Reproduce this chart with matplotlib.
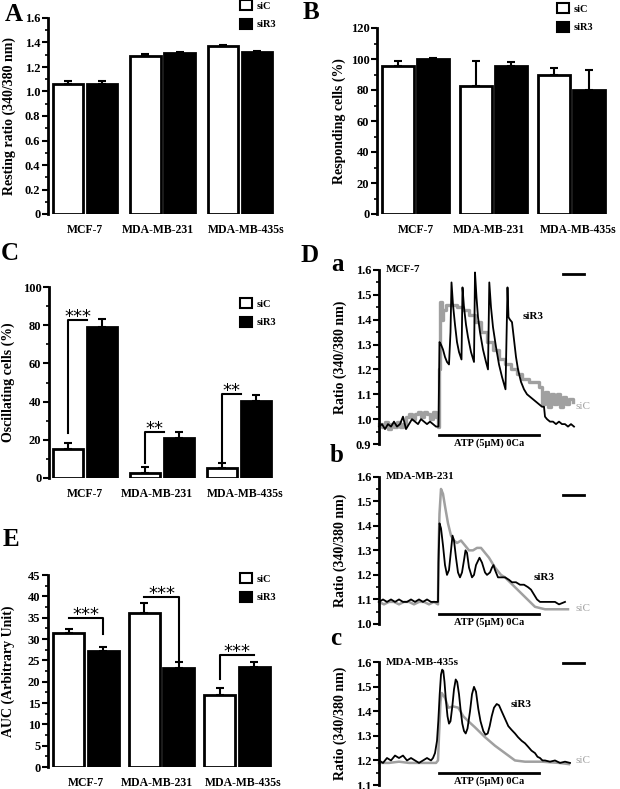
import numpy as np
import matplotlib
matplotlib.use("Agg")
import matplotlib.pyplot as plt
from matplotlib.patches import Patch
from matplotlib.ticker import MultipleLocator, FuncFormatter

plt.rcParams['font.family'] = ['Liberation Serif', 'DejaVu Serif']
plt.rcParams['font.weight'] = 'bold'
plt.rcParams['axes.labelweight'] = 'bold'

cells = ['MCF-7', 'MDA-MB-231', 'MDA-MB-435s']

# A - resting ratio
a_sic = [1.064, 1.292, 1.374]
a_sic_err = [0.025, 0.014, 0.008]
a_sir = [1.064, 1.314, 1.319]
a_sir_err = [0.018, 0.008, 0.009]

# B - responding cells (%)
b_sic = [95.7, 82.8, 89.4]
b_sic_err = [2.8, 16.1, 4.8]
b_sir = [100.2, 95.2, 79.8]
b_sir_err = [0.4, 2.8, 12.9]

# C - oscillating cells (%)
c_sic = [15.3, 2.6, 5.2]
c_sic_err = [3.0, 3.2, 2.7]
c_sir = [79.0, 20.7, 40.5]
c_sir_err = [4.4, 3.4, 3.1]
c_stars = ['***', '**', '**']
c_brk_top = [82.9, 24.1, 44.0]
c_brk_bot = [23.5, 7.9, 7.9]

# E - AUC
e_sic = [31.3, 36.0, 16.9]
e_sic_err = [1.0, 2.5, 1.7]
e_sir = [27.3, 23.1, 23.5]
e_sir_err = [0.8, 1.4, 1.1]
e_stars = ['***', '***', '***']
e_brk_top = [35.0, 39.9, 26.3]
e_brk_bot = [31.2, 25.1, 20.6]

# D - traces (time, ratio)
da_sic = [(0, 0.98), (3, 0.97), (6, 0.99), (9, 0.96), (12, 0.98), (15, 0.97), (18, 0.99),
          (21, 0.97), (24, 0.98), (27, 1.01), (30, 1.02), (33, 1.00), (36, 1.02), (39, 1.03),
          (42, 1.01), (45, 1.03), (48, 1.02), (51, 1.00), (54, 1.03), (57, 1.01), (59, 0.97),
          (60, 1.20), (61, 1.47), (62.5, 1.40), (64, 1.44), (67, 1.46), (72, 1.46), (78, 1.45),
          (84, 1.44), (90, 1.42), (96, 1.39), (102, 1.35), (108, 1.31), (114, 1.28), (120, 1.24),
          (126, 1.22), (132, 1.20), (138, 1.18), (143, 1.16), (150, 1.15), (158, 1.15),
          (160, 1.13), (163, 1.06), (166, 1.11), (169, 1.05), (172, 1.10), (175, 1.06),
          (178, 1.10), (181, 1.05), (184, 1.09), (187, 1.06), (190, 1.08), (194, 1.07)]
da_sir = [(0, 0.97), (3, 0.98), (6, 0.96), (9, 0.98), (12, 0.97), (15, 0.99), (18, 0.97),
          (21, 0.98), (24, 1.01), (27, 0.96), (30, 0.98), (33, 1.00), (36, 0.99), (39, 0.98),
          (42, 1.00), (45, 0.99), (48, 0.98), (51, 0.99), (54, 0.98), (57, 0.97), (59.5, 0.97),
          (60.5, 1.31), (62, 1.30), (64, 1.28), (66, 1.25), (68, 1.23), (70, 1.22), (71.5, 1.35),
          (72.5, 1.55), (74, 1.46), (76, 1.38), (78, 1.31), (80, 1.27), (82.5, 1.24), (83.5, 1.53),
          (85, 1.45), (87, 1.38), (89, 1.33), (92, 1.27), (95, 1.23), (96, 1.59), (97.5, 1.49),
          (99, 1.41), (101, 1.35), (104, 1.28), (107, 1.23), (109, 1.20), (110.3, 1.55),
          (112, 1.45), (114, 1.37), (117, 1.29), (120, 1.22), (123, 1.17), (126.5, 1.12),
          (128.5, 1.53), (129.5, 1.41), (131, 1.40), (133, 1.39), (135, 1.32), (137, 1.25),
          (139, 1.20), (142, 1.15), (145, 1.12), (148, 1.10), (151, 1.09), (154, 1.08),
          (157, 1.07), (160, 1.06), (163, 1.05), (165, 1.05), (166, 1.01), (168, 1.00),
          (171, 0.99), (174, 0.99), (177, 0.98), (180, 0.99), (183, 0.98), (186, 0.98),
          (189, 0.97), (192, 0.98), (195, 0.97)]

db_sic = [(0, 1.09), (5, 1.08), (10, 1.09), (15, 1.09), (20, 1.08), (25, 1.09), (30, 1.09),
          (35, 1.08), (40, 1.09), (45, 1.09), (50, 1.08), (55, 1.09), (59, 1.08), (59.5, 1.30),
          (60.5, 1.45), (62, 1.55), (64, 1.53), (66, 1.48), (69, 1.41), (72, 1.36), (75, 1.34),
          (78, 1.33), (82, 1.34), (86, 1.32), (90, 1.30), (94, 1.30), (98, 1.31), (102, 1.31),
          (106, 1.29), (110, 1.27), (116, 1.23), (122, 1.20), (126, 1.19), (131, 1.17),
          (136, 1.15), (141, 1.13), (146, 1.11), (151, 1.09), (156, 1.07), (161, 1.065),
          (166, 1.06), (175, 1.06), (183, 1.06), (189, 1.06)]
db_sir = [(0, 1.09), (4, 1.10), (8, 1.09), (12, 1.10), (16, 1.09), (20, 1.10), (24, 1.09),
          (28, 1.09), (32, 1.10), (36, 1.09), (40, 1.10), (44, 1.09), (48, 1.10), (52, 1.09),
          (56, 1.09), (59, 1.09), (59.5, 1.25), (60.5, 1.41), (62, 1.39), (64, 1.32), (66, 1.24),
          (68, 1.20), (70, 1.22), (72, 1.30), (73.5, 1.36), (75, 1.34), (77, 1.27), (79, 1.21),
          (81, 1.19), (83, 1.21), (85, 1.26), (86.5, 1.30), (88, 1.29), (90, 1.23), (93, 1.19),
          (95, 1.20), (97, 1.24), (100.5, 1.27), (103, 1.25), (106, 1.21), (108, 1.20),
          (111, 1.21), (113, 1.23), (114.5, 1.24), (116, 1.22), (119, 1.19), (122, 1.19),
          (126, 1.19), (130, 1.18), (133, 1.17), (137, 1.17), (141, 1.16), (145, 1.16),
          (149, 1.15), (152, 1.14), (155, 1.12), (158, 1.10), (161, 1.09), (164, 1.09),
          (168, 1.09), (172, 1.09), (176, 1.09), (180, 1.08), (186, 1.09)]

dc_sic = [(0, 1.19), (10, 1.19), (20, 1.195), (30, 1.19), (40, 1.19), (50, 1.19), (57, 1.19),
          (59, 1.20), (60, 1.30), (61.5, 1.44), (62.7, 1.475), (66, 1.455), (69.3, 1.415),
          (74.3, 1.42), (79.3, 1.415), (84.3, 1.38), (89.3, 1.36), (96, 1.335), (106, 1.295),
          (116, 1.26), (126, 1.23), (136, 1.20), (146, 1.195), (163, 1.195), (180, 1.19),
          (190, 1.185)]
dc_sir = [(0, 1.20), (4, 1.19), (8, 1.21), (12, 1.20), (16, 1.22), (20, 1.21), (24, 1.22),
          (28, 1.20), (32, 1.21), (36, 1.20), (40, 1.19), (44, 1.20), (48, 1.21), (52, 1.20),
          (54, 1.21), (56, 1.23), (58, 1.28), (59.3, 1.36), (60.7, 1.47), (62, 1.55),
          (63.2, 1.57), (64.3, 1.565), (65.5, 1.52), (66.7, 1.455), (68.5, 1.38), (70, 1.35),
          (71.5, 1.36), (73.3, 1.42), (75, 1.49), (76.7, 1.53), (78.2, 1.52), (80, 1.47),
          (81.5, 1.41), (83.3, 1.35), (85, 1.32), (86.7, 1.31), (88.5, 1.33), (91, 1.40),
          (93, 1.47), (95, 1.50), (97, 1.48), (99.3, 1.41), (101.5, 1.36), (104.3, 1.32),
          (106.5, 1.305), (108.7, 1.31), (110.7, 1.34), (112.7, 1.38), (115, 1.415),
          (117.7, 1.43), (120, 1.425), (122.7, 1.40), (126, 1.37), (129.3, 1.34), (132.5, 1.325),
          (136, 1.31), (139, 1.295), (142.7, 1.28), (146, 1.27), (149.3, 1.255), (152.5, 1.24),
          (156, 1.23), (158.5, 1.215), (161, 1.21), (163.5, 1.20), (166, 1.20), (171, 1.195),
          (176, 1.20), (181, 1.19), (186, 1.195), (191, 1.19)]

GRAY = '#a0a0a0'
W, H = 620, 789
fig = plt.figure(figsize=(W / 100, H / 100), dpi=100)

# small shifts that keep the long category names from touching
label_shift = [0, -0.06, 0.08]


def add_ax(l, t, r, b):
    return fig.add_axes([l / W, 1 - b / H, (r - l) / W, (b - t) / H])


def style_y(ax, major, minor, fmt):
    for s in ['top', 'right', 'bottom']:
        ax.spines[s].set_visible(False)
    ax.spines['left'].set_linewidth(2)
    ax.yaxis.set_major_locator(MultipleLocator(major))
    ax.yaxis.set_minor_locator(MultipleLocator(minor))
    ax.yaxis.set_major_formatter(FuncFormatter(fmt))
    ax.tick_params(axis='y', which='major', length=4, width=1.5, labelsize=9, pad=1.5)
    ax.tick_params(axis='y', which='minor', length=2.5, width=1.2)


def legend(ax, px, py):
    hs = [Patch(facecolor='white', edgecolor='black', linewidth=1.5),
          Patch(facecolor='black', edgecolor='black', linewidth=1.5)]
    ax.legend(hs, ['siC', 'siR3'], loc='upper left', bbox_to_anchor=(px / W, 1 - py / H),
              bbox_transform=fig.transFigure, frameon=False, borderaxespad=0, borderpad=0,
              handlelength=1.15, handleheight=1.15, handletextpad=0.4, labelspacing=0.75,
              fontsize=7.5)


def bar_panel(box, c0, sp, sic, sic_err, sir, sir_err, ylim, major, minor, fmt,
              ylabel, lab_x, off=0.22, w=0.39):
    l, t, r, b = box
    ax = add_ax(l, t, r, b)
    x = np.arange(len(cells))
    ekw = dict(ecolor='black', elinewidth=1.5, capsize=3, capthick=1.5)
    ax.bar(x - off, sic, w, color='white', edgecolor='black', linewidth=2,
           yerr=[np.zeros(3), sic_err], error_kw=ekw)
    ax.bar(x + off, sir, w, color='black', edgecolor='black', linewidth=2,
           yerr=[np.zeros(3), sir_err], error_kw=ekw)
    x0 = -(c0 - l) / sp
    ax.set_xlim(x0, x0 + (r - l) / sp)
    ax.set_ylim(*ylim)
    ax.set_xticks(x + np.array(label_shift), cells)
    ax.tick_params(axis='x', length=0, labelsize=8.5, pad=7)
    style_y(ax, major, minor, fmt)
    ax.set_ylabel(ylabel, fontsize=10)
    ax.yaxis.set_label_coords((lab_x - l) / (r - l), 0.5)
    return ax, x


def stars(ax, s, xm, y):
    ax.annotate(s, (xm, y), xytext=(0, 2), textcoords='offset points', ha='center',
                va='center', fontsize=13, family='DejaVu Sans', fontweight='normal')


fmt1 = lambda v, p: '0' if abs(v) < 1e-9 else f'{v:.1f}'
fmt0 = lambda v, p: f'{v:.0f}'

# A
ax, x = bar_panel((48, 18, 279, 214), 85, 77.5, a_sic, a_sic_err, a_sir, a_sir_err,
                  (0, 1.6), 0.2, 0.1, fmt1, 'Resting ratio (340/380 nm)', 16)
legend(ax, 240, 0)

# B
ax, x = bar_panel((377, 28, 611, 214), 415.5, 78, b_sic, b_sic_err, b_sir, b_sir_err,
                  (0, 120), 20, 10, fmt0, 'Responding cells (%)', 346, w=0.41)
legend(ax, 557, 3)

# C
ax, x = bar_panel((49, 287, 280, 478), 85, 77, c_sic, c_sic_err, c_sir, c_sir_err,
                  (0, 100), 20, 10, fmt0, 'Oscillating cells (%)', 15)
legend(ax, 240, 298)
off, w = 0.22, 0.39
for i in range(3):
    xl = x[i] - off
    xr = x[i] + off - w / 2
    ax.plot([xl, xl, xr], [c_brk_bot[i], c_brk_top[i], c_brk_top[i]], color='black', lw=1.5)
    stars(ax, c_stars[i], (xl + xr) / 2, c_brk_top[i])

# E
ax, x = bar_panel((48, 575, 274.5, 767), 86, 75.5, e_sic, e_sic_err, e_sir, e_sir_err,
                  (0, 45), 5, 2.5, fmt0, 'AUC (Arbitrary Unit)', 15, off=0.23, w=0.41)
legend(ax, 240, 573)
for i in range(3):
    xs, xr = x[i] - 0.23, x[i] + 0.23
    if e_sir[i] < e_sic[i]:
        ax.plot([xs, xr, xr], [e_brk_top[i], e_brk_top[i], e_brk_bot[i]], color='black', lw=1.5)
    else:
        ax.plot([xr, xs, xs], [e_brk_top[i], e_brk_top[i], e_brk_bot[i]], color='black', lw=1.5)
    stars(ax, e_stars[i], (xs + xr) / 2, e_brk_top[i])


# D traces
def trace_panel(box, ylim, sic_pts, sir_pts, cell, atp_y, scale_y, sir_xy, sic_y, steps=False):
    l, t, r, b = box
    ax = add_ax(l, t, r, b)
    ts, vs = np.array(sic_pts).T
    ax.plot(ts, vs, color=GRAY, lw=2.4 if steps else 1.8,
            drawstyle='steps-post' if steps else 'default', clip_on=False)
    tr, vr = np.array(sir_pts).T
    ax.plot(tr, vr, color='black', lw=1.3, clip_on=False)
    ax.set_xlim(0, r - l)
    ax.set_ylim(*ylim)
    ax.set_xticks([])
    style_y(ax, 0.1, 0.05, lambda v, p: f'{v:.1f}')
    ax.set_ylabel('Ratio (340/380 nm)', fontsize=10)
    ax.yaxis.set_label_coords((347 - l) / (r - l), 0.5)
    ax.plot([60, 160], [atp_y, atp_y], color='black', lw=2, clip_on=False)
    ax.annotate('ATP (5\u03bcM) 0Ca', (110, atp_y), xytext=(0, -2.5), textcoords='offset points',
                ha='center', va='top', fontsize=7.5)
    ax.plot([184, 205], [scale_y, scale_y], color='black', lw=2, clip_on=False)
    ax.text(7, ylim[1], cell, ha='left', va='center', fontsize=8)
    ax.text(sir_xy[0], sir_xy[1], 'siR3', ha='center', va='center', fontsize=8)
    ax.text(196, sic_y, 'siC', ha='left', va='center', fontsize=8, color=GRAY,
            fontweight='normal')


trace_panel((379, 270, 589, 444), (0.9, 1.6), da_sic, da_sir, 'MCF-7', 0.936, 1.584,
            (154, 1.413), 1.05, steps=True)
trace_panel((379, 476.7, 589, 624), (1.0, 1.6), db_sic, db_sir, 'MDA-MB-231', 1.041, 1.525,
            (165, 1.19), 1.065)
trace_panel((379, 662.3, 589, 785), (1.1, 1.6), dc_sic, dc_sir, 'MDA-MB-435s', 1.149, 1.597,
            (142, 1.428), 1.20)

# panel letters
for s, px, py in [('A', 14, 21), ('B', 311, 19), ('C', 10, 260), ('D', 310, 262),
                  ('a', 337, 271), ('E', 11, 546), ('b', 337, 462), ('c', 336, 645)]:
    fig.text(px / W, 1 - py / H, s, fontsize=18, ha='center', va='baseline')

fig.savefig('out.png', dpi=100)
